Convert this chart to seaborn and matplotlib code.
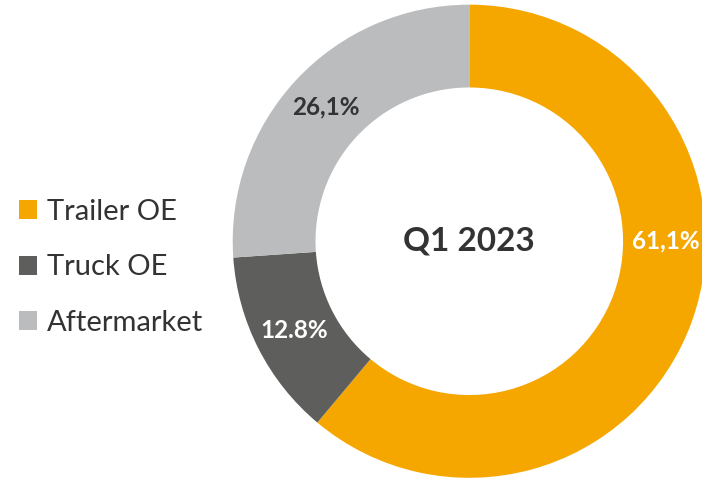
import matplotlib
matplotlib.use("Agg")
import matplotlib.pyplot as plt
import numpy as np
import seaborn as sns

# ------------------- data -------------------
segments = ["Trailer OE", "Truck OE", "Aftermarket"]
shares = [61.1, 12.8, 26.1]
share_labels = ["61,1%", "12.8%", "26,1%"]
colors = ["#F5A700", "#5E5E5C", "#BBBCBE"]
label_colors = ["white", "white", "#333333"]
center_text = "Q1 2023"

sns.set_theme(style="white")
plt.rcParams["font.family"] = ["Lato", "DejaVu Sans"]

fig = plt.figure(figsize=(7.02, 4.80), dpi=100)
# axes positioned so the ring sits like in the reference (slightly clipped on the right)
ax = fig.add_axes([0.3315, 0.0044, 0.674, 0.986])

ring_width = 0.35
wedges, _ = ax.pie(shares, colors=colors, startangle=90, counterclock=False,
                   radius=1.0, wedgeprops=dict(width=ring_width, linewidth=0))
ax.set_xlim(-1, 1)
ax.set_ylim(-1, 1)
ax.set_aspect("equal")

# percentage labels in the middle of the ring
mid_r = 1.0 - ring_width / 2 + 0.005
angle_shift = [20, 0, 0]  # excel nudged the big label toward 3 o'clock
for w, txt, c, shift in zip(wedges, share_labels, label_colors, angle_shift):
    ang = np.deg2rad((w.theta1 + w.theta2) / 2 + shift)
    ax.text(mid_r * np.cos(ang), mid_r * np.sin(ang), txt, ha="center", va="center",
            fontsize=17.5, fontweight="bold", color=c)

ax.text(0, 0, center_text, ha="center", va="center", fontsize=24,
        fontweight="bold", color="#333333")

leg = fig.legend(wedges, segments, loc="center left", bbox_to_anchor=(0.027, 0.443),
                 frameon=False, fontsize=21, handlelength=0.62, handleheight=0.62,
                 handletextpad=0.35, labelspacing=1.02, borderpad=0, borderaxespad=0)
for t in leg.get_texts():
    t.set_color("#333333")

fig.savefig("out.png", dpi=100)
